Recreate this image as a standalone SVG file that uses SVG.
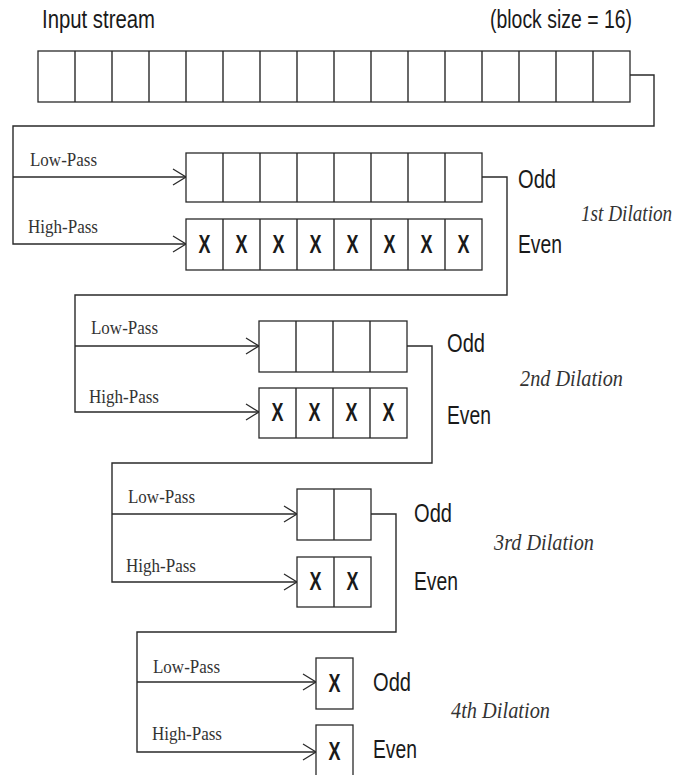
<svg xmlns="http://www.w3.org/2000/svg" width="680" height="775" viewBox="0 0 680 775">
<style>
.cell{fill:#fff;stroke:#2a2a2a;stroke-width:1.3}
.wire{fill:none;stroke:#2a2a2a;stroke-width:1.4}
.sans{font-family:"Liberation Sans",Arial,sans-serif;fill:#1a1a1a}
.serif{font-family:"Liberation Serif","Times New Roman",serif;fill:#333}
.big{font-size:26px}
.mid{font-size:26px}
.lbl{font-size:19px}
.dil{font-size:24px;font-style:italic}
.x{font-size:25px;font-weight:bold;text-anchor:middle}
</style>
<defs>
<marker id="chev" viewBox="-15 -10 17 20" markerWidth="17" markerHeight="20" refX="0" refY="0" orient="auto" markerUnits="userSpaceOnUse">
<path d="M-13,-8 L0,0 L-13,8" fill="none" stroke="#2a2a2a" stroke-width="1.3"/>
</marker>
</defs>

<text class="sans big" x="42" y="28" textLength="113" lengthAdjust="spacingAndGlyphs">Input stream</text>
<text class="sans big" x="490" y="28" textLength="142" lengthAdjust="spacingAndGlyphs">(block size = 16)</text>

<g id="input">
<rect class="cell" x="38" y="51" width="592" height="51"/>
<path class="wire" d="M75,51V102M112,51V102M149,51V102M186,51V102M223,51V102M260,51V102M297,51V102M334,51V102M371,51V102M408,51V102M445,51V102M482,51V102M519,51V102M556,51V102M593,51V102"/>
</g>

<g id="connectors">
<path class="wire" d="M630,75H654V126H13V244H186" marker-end="url(#chev)"/>
<path class="wire" d="M13,177H186" marker-end="url(#chev)"/>
<path class="wire" d="M482,177H507V295H75V412H259" marker-end="url(#chev)"/>
<path class="wire" d="M75,346H259" marker-end="url(#chev)"/>
<path class="wire" d="M407,346H432V463H112V582H297" marker-end="url(#chev)"/>
<path class="wire" d="M112,514H297" marker-end="url(#chev)"/>
<path class="wire" d="M371,514H396V632H137V752H316" marker-end="url(#chev)"/>
<path class="wire" d="M137,682H316" marker-end="url(#chev)"/>
</g>

<g id="d1-low">
<rect class="cell" x="186" y="153" width="296" height="49"/>
<path class="wire" d="M223,153V202M260,153V202M297,153V202M334,153V202M371,153V202M408,153V202M445,153V202"/>
</g>
<g id="d1-high">
<rect class="cell" x="186" y="219" width="296" height="51"/>
<path class="wire" d="M223,219V270M260,219V270M297,219V270M334,219V270M371,219V270M408,219V270M445,219V270"/>
<text class="sans x" x="204.5" y="253" textLength="12" lengthAdjust="spacingAndGlyphs">X</text>
<text class="sans x" x="241.5" y="253" textLength="12" lengthAdjust="spacingAndGlyphs">X</text>
<text class="sans x" x="278.5" y="253" textLength="12" lengthAdjust="spacingAndGlyphs">X</text>
<text class="sans x" x="315.5" y="253" textLength="12" lengthAdjust="spacingAndGlyphs">X</text>
<text class="sans x" x="352.5" y="253" textLength="12" lengthAdjust="spacingAndGlyphs">X</text>
<text class="sans x" x="389.5" y="253" textLength="12" lengthAdjust="spacingAndGlyphs">X</text>
<text class="sans x" x="426.5" y="253" textLength="12" lengthAdjust="spacingAndGlyphs">X</text>
<text class="sans x" x="463.5" y="253" textLength="12" lengthAdjust="spacingAndGlyphs">X</text>
</g>
<g id="d1-labels">
<text class="serif lbl" x="30" y="166" textLength="67" lengthAdjust="spacingAndGlyphs">Low-Pass</text>
<text class="serif lbl" x="28" y="233" textLength="70" lengthAdjust="spacingAndGlyphs">High-Pass</text>
<text class="sans mid" x="518" y="188" textLength="38" lengthAdjust="spacingAndGlyphs">Odd</text>
<text class="sans mid" x="518" y="253" textLength="44" lengthAdjust="spacingAndGlyphs">Even</text>
<text class="serif dil" transform="translate(581,221) scale(0.8,1)" x="0" y="0">1st Dilation</text>
</g>

<g id="d2-low">
<rect class="cell" x="259" y="321" width="148" height="51"/>
<path class="wire" d="M296,321V372M333,321V372M370,321V372"/>
</g>
<g id="d2-high">
<rect class="cell" x="259" y="388" width="148" height="50"/>
<path class="wire" d="M296,388V438M333,388V438M370,388V438"/>
<text class="sans x" x="277.5" y="421" textLength="12" lengthAdjust="spacingAndGlyphs">X</text>
<text class="sans x" x="314.5" y="421" textLength="12" lengthAdjust="spacingAndGlyphs">X</text>
<text class="sans x" x="351.5" y="421" textLength="12" lengthAdjust="spacingAndGlyphs">X</text>
<text class="sans x" x="388.5" y="421" textLength="12" lengthAdjust="spacingAndGlyphs">X</text>
</g>
<g id="d2-labels">
<text class="serif lbl" x="91" y="334" textLength="67" lengthAdjust="spacingAndGlyphs">Low-Pass</text>
<text class="serif lbl" x="89" y="403" textLength="70" lengthAdjust="spacingAndGlyphs">High-Pass</text>
<text class="sans mid" x="447" y="352" textLength="38" lengthAdjust="spacingAndGlyphs">Odd</text>
<text class="sans mid" x="447" y="424" textLength="44" lengthAdjust="spacingAndGlyphs">Even</text>
<text class="serif dil" x="520" y="386" textLength="103" lengthAdjust="spacingAndGlyphs">2nd Dilation</text>
</g>

<g id="d3-low">
<rect class="cell" x="297" y="489" width="74" height="51"/>
<path class="wire" d="M334,489V540"/>
</g>
<g id="d3-high">
<rect class="cell" x="297" y="557" width="74" height="50"/>
<path class="wire" d="M334,557V607"/>
<text class="sans x" x="315.5" y="590" textLength="12" lengthAdjust="spacingAndGlyphs">X</text>
<text class="sans x" x="352.5" y="590" textLength="12" lengthAdjust="spacingAndGlyphs">X</text>
</g>
<g id="d3-labels">
<text class="serif lbl" x="128" y="503" textLength="67" lengthAdjust="spacingAndGlyphs">Low-Pass</text>
<text class="serif lbl" x="126" y="572" textLength="70" lengthAdjust="spacingAndGlyphs">High-Pass</text>
<text class="sans mid" x="414" y="522" textLength="38" lengthAdjust="spacingAndGlyphs">Odd</text>
<text class="sans mid" x="414" y="590" textLength="44" lengthAdjust="spacingAndGlyphs">Even</text>
<text class="serif dil" x="494" y="550" textLength="100" lengthAdjust="spacingAndGlyphs">3rd Dilation</text>
</g>

<g id="d4-low">
<rect class="cell" x="316" y="658" width="37" height="51"/>
<text class="sans x" x="334.5" y="692" textLength="12" lengthAdjust="spacingAndGlyphs">X</text>
</g>
<g id="d4-high">
<rect class="cell" x="316" y="725" width="37" height="60"/>
<text class="sans x" x="334.5" y="760" textLength="12" lengthAdjust="spacingAndGlyphs">X</text>
</g>
<g id="d4-labels">
<text class="serif lbl" x="153" y="673" textLength="67" lengthAdjust="spacingAndGlyphs">Low-Pass</text>
<text class="serif lbl" x="152" y="740" textLength="70" lengthAdjust="spacingAndGlyphs">High-Pass</text>
<text class="sans mid" x="373" y="691" textLength="38" lengthAdjust="spacingAndGlyphs">Odd</text>
<text class="sans mid" x="373" y="758" textLength="44" lengthAdjust="spacingAndGlyphs">Even</text>
<text class="serif dil" x="451" y="718" textLength="99" lengthAdjust="spacingAndGlyphs">4th Dilation</text>
</g>
</svg>
